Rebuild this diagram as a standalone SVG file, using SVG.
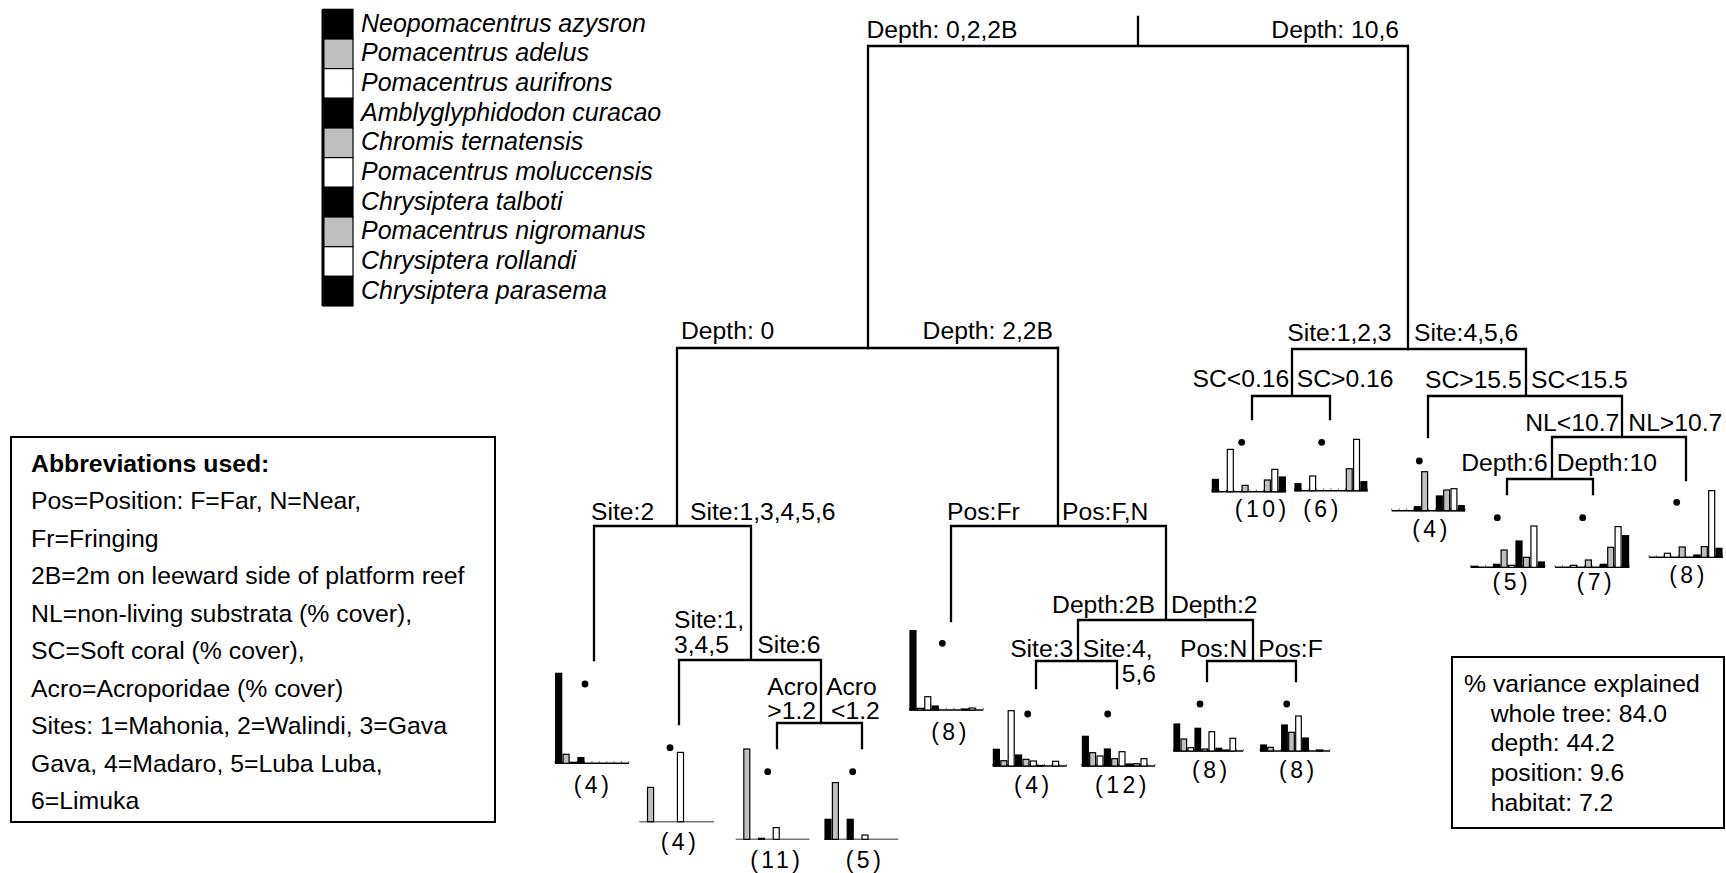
<svg xmlns="http://www.w3.org/2000/svg" width="1726" height="873" viewBox="0 0 1726 873">
<style>
text{font-family:"Liberation Sans",Arial,Helvetica,sans-serif;fill:#000}
.lg{font-size:25px;font-style:italic}
.lb{font-size:24.7px}
.ab{font-size:24.8px}
.cnt{font-size:23px;letter-spacing:3.5px;text-anchor:middle}
.e{text-anchor:end}
.ln{stroke:#000;stroke-width:2.3;fill:none;stroke-linecap:square}
.box{fill:#fff;stroke:#000;stroke-width:2}
.B{fill:#000;stroke:#000;stroke-width:1.2}
.G{fill:#bfbfbf;stroke:#000;stroke-width:1.2}
.W{fill:#fff;stroke:#000;stroke-width:1.2}
.ax{stroke:#000;stroke-width:1.5}
.axg{stroke:#777;stroke-width:1.5}
.tk{stroke:#555;stroke-width:1.6}
</style>
<rect width="1726" height="873" fill="#fff"/>

<g id="legend">
<rect class="B" x="323" y="9.3" width="30" height="29.67"/>
<rect class="G" x="323" y="39" width="30" height="29.67"/>
<rect class="W" x="323" y="68.6" width="30" height="29.67"/>
<rect class="B" x="323" y="98.3" width="30" height="29.67"/>
<rect class="G" x="323" y="128" width="30" height="29.67"/>
<rect class="W" x="323" y="157.6" width="30" height="29.67"/>
<rect class="B" x="323" y="187.3" width="30" height="29.67"/>
<rect class="G" x="323" y="217" width="30" height="29.67"/>
<rect class="W" x="323" y="246.7" width="30" height="29.67"/>
<rect class="B" x="323" y="276.3" width="30" height="29.67"/>
<line x1="323" y1="9.3" x2="323" y2="306" stroke="#000" stroke-width="3"/>
<text class="lg" x="361" y="31.7">Neopomacentrus azysron</text>
<text class="lg" x="361" y="61.4">Pomacentrus adelus</text>
<text class="lg" x="361" y="91">Pomacentrus aurifrons</text>
<text class="lg" x="361" y="120.7">Amblyglyphidodon curacao</text>
<text class="lg" x="361" y="150.4">Chromis ternatensis</text>
<text class="lg" x="361" y="180">Pomacentrus moluccensis</text>
<text class="lg" x="361" y="209.7">Chrysiptera talboti</text>
<text class="lg" x="361" y="239.4">Pomacentrus nigromanus</text>
<text class="lg" x="361" y="269.1">Chrysiptera rollandi</text>
<text class="lg" x="361" y="298.7">Chrysiptera parasema</text>
</g>

<g id="abbreviations">
<rect class="box" x="11" y="437" width="484" height="385"/>
<text class="ab" x="31" y="471.7" font-weight="bold">Abbreviations used:</text>
<text class="ab" x="31" y="509.3">Pos=Position: F=Far, N=Near,</text>
<text class="ab" x="31" y="546.8">Fr=Fringing</text>
<text class="ab" x="31" y="584.3">2B=2m on leeward side of platform reef</text>
<text class="ab" x="31" y="621.8">NL=non-living substrata (% cover),</text>
<text class="ab" x="31" y="659.3">SC=Soft coral (% cover),</text>
<text class="ab" x="31" y="696.8">Acro=Acroporidae (% cover)</text>
<text class="ab" x="31" y="734.3">Sites: 1=Mahonia, 2=Walindi, 3=Gava</text>
<text class="ab" x="31" y="771.8">Gava, 4=Madaro, 5=Luba Luba,</text>
<text class="ab" x="31" y="809.3">6=Limuka</text>
</g>

<g id="variance">
<rect class="box" x="1452" y="657" width="272" height="171"/>
<text class="ab" x="1464" y="691.7">% variance explained</text>
<text class="ab" x="1490.7" y="721.5">whole tree: 84.0</text>
<text class="ab" x="1490.7" y="751.3">depth: 44.2</text>
<text class="ab" x="1490.7" y="781.1">position: 9.6</text>
<text class="ab" x="1490.7" y="810.9">habitat: 7.2</text>
</g>

<g id="connectors">
<path class="ln" d="M1138 17V46M868 46H1408M868 46V348M1408 46V349"/>
<path class="ln" d="M677 348H1058M677 348V526M594 526H751M594 526V660M751 526V660M679 660H821M679 660V724M821 660V723M777 723H862M777 723V748M862 723V748"/>
<path class="ln" d="M1058 348V526M951 526H1166M951 526V621M1166 526V620M1078 620H1253M1078 620V661M1036 661H1117M1036 661V688M1117 661V688M1253 620V661M1207 661H1296M1207 661V681M1296 661V681"/>
<path class="ln" d="M1292 349H1526M1292 349V396M1252 396H1330M1252 396V419M1330 396V419M1526 349V396M1428 396H1622M1428 396V437M1622 396V437M1552 437H1686M1552 437V479M1507 479H1593M1507 479V494M1593 479V494M1686 437V480"/>
</g>

<g id="split-root">
<text class="lb" x="866.5" y="38">Depth: 0,2,2B</text>
<text class="lb e" x="1399" y="38">Depth: 10,6</text>
</g>
<g id="split-depth0">
<text class="lb" x="681" y="339">Depth: 0</text>
<text class="lb e" x="1053" y="339">Depth: 2,2B</text>
</g>
<g id="split-site123">
<text class="lb" x="1287.3" y="340.5">Site:1,2,3</text>
<text class="lb" x="1414" y="340.5">Site:4,5,6</text>
</g>
<g id="split-sc016">
<text class="lb e" x="1289.3" y="387.3">SC&lt;0.16</text>
<text class="lb" x="1296.7" y="387.3">SC&gt;0.16</text>
</g>
<g id="split-sc155">
<text class="lb e" x="1521.7" y="388">SC&gt;15.5</text>
<text class="lb" x="1531" y="388">SC&lt;15.5</text>
</g>
<g id="split-nl">
<text class="lb e" x="1619.3" y="431">NL&lt;10.7</text>
<text class="lb" x="1628.3" y="431">NL&gt;10.7</text>
</g>
<g id="split-depth610">
<text class="lb e" x="1547.7" y="470.7">Depth:6</text>
<text class="lb" x="1556.7" y="470.7">Depth:10</text>
</g>
<g id="split-site2">
<text class="lb" x="591" y="520">Site:2</text>
<text class="lb" x="690" y="520">Site:1,3,4,5,6</text>
</g>
<g id="split-site6">
<text class="lb" x="674" y="628.3">Site:1,</text>
<text class="lb" x="674" y="652.7">3,4,5</text>
<text class="lb" x="757.3" y="652.7">Site:6</text>
</g>
<g id="split-acro">
<text class="lb" x="767.3" y="695">Acro</text>
<text class="lb e" x="816" y="719.3">&gt;1.2</text>
<text class="lb" x="826" y="695">Acro</text>
<text class="lb" x="831" y="719.3">&lt;1.2</text>
</g>
<g id="split-pos">
<text class="lb" x="947" y="520">Pos:Fr</text>
<text class="lb" x="1062" y="520">Pos:F,N</text>
</g>
<g id="split-depth2b">
<text class="lb e" x="1155" y="612.7">Depth:2B</text>
<text class="lb" x="1171" y="612.7">Depth:2</text>
</g>
<g id="split-site3">
<text class="lb e" x="1073.3" y="656.7">Site:3</text>
<text class="lb" x="1082.7" y="656.7">Site:4,</text>
<text class="lb" x="1121.7" y="681.7">5,6</text>
</g>
<g id="split-posn">
<text class="lb e" x="1247.3" y="656.7">Pos:N</text>
<text class="lb" x="1258.3" y="656.7">Pos:F</text>
</g>

<g id="leaf-site2">
<line class="ax" x1="555" y1="763.3" x2="629" y2="763.3"/>
<line class="tk" x1="554.4" y1="762" x2="630" y2="762" stroke-dasharray="1 6.4"/>
<rect class="B" x="555.7" y="673.3" width="6" height="90"/>
<rect class="G" x="563.1" y="754.3" width="6" height="9"/>
<rect class="W" x="570.5" y="762.3" width="6" height="1"/>
<rect class="B" x="577.9" y="757.6" width="6" height="5.7"/>
<circle cx="585" cy="684" r="3.4"/>
<text class="cnt" x="593" y="792.7">(4)</text>
</g>

<g id="leaf-site1345">
<line class="axg" x1="639.3" y1="821.7" x2="714" y2="821.7"/>
<rect class="G" x="647.5" y="787.4" width="6.1" height="34.3"/>
<rect class="W" x="677.4" y="752.4" width="6.1" height="69.3"/>
<circle cx="670" cy="747.7" r="3.4"/>
<text class="cnt" x="680" y="850">(4)</text>
</g>

<g id="leaf-acro-gt">
<line class="axg" x1="735.7" y1="839.3" x2="809.3" y2="839.3"/>
<rect class="G" x="743.8" y="749" width="6" height="90.3"/>
<rect class="B" x="758.5" y="838.3" width="6" height="1"/>
<rect class="W" x="773.2" y="827.6" width="6" height="11.7"/>
<circle cx="767.7" cy="771.7" r="3.4"/>
<text class="cnt" x="776.8" y="868.3">(11)</text>
</g>

<g id="leaf-acro-lt">
<line class="axg" x1="824.3" y1="839.3" x2="898.3" y2="839.3"/>
<rect class="B" x="825" y="819.3" width="6" height="20"/>
<rect class="G" x="832.4" y="782.6" width="6" height="56.7"/>
<rect class="B" x="847.2" y="819.3" width="6" height="20"/>
<rect class="W" x="862" y="835" width="6" height="4.3"/>
<circle cx="852.7" cy="771.7" r="3.4"/>
<text class="cnt" x="865" y="868.3">(5)</text>
</g>

<g id="leaf-posfr">
<line class="ax" x1="909.3" y1="710" x2="983.3" y2="710"/>
<line class="tk" x1="908.8" y1="708.7" x2="984" y2="708.7" stroke-dasharray="1 6.4"/>
<rect class="B" x="910" y="630.7" width="6" height="79.3"/>
<rect class="G" x="917.4" y="708.3" width="6" height="1.7"/>
<rect class="W" x="924.8" y="696.7" width="6" height="13.3"/>
<rect class="B" x="932.2" y="706" width="6" height="4"/>
<rect class="G" x="961.8" y="709" width="6" height="1"/>
<rect class="W" x="969.2" y="708" width="6" height="2"/>
<circle cx="942.3" cy="643.3" r="3.4"/>
<text class="cnt" x="950.5" y="740">(8)</text>
</g>

<g id="leaf-site3">
<line class="ax" x1="992.7" y1="766" x2="1066.7" y2="766"/>
<line class="tk" x1="992.2" y1="764.7" x2="1067.4" y2="764.7" stroke-dasharray="1 6.4"/>
<rect class="B" x="993.4" y="749.3" width="6" height="16.7"/>
<rect class="G" x="1000.8" y="760.7" width="6" height="5.3"/>
<rect class="W" x="1008.2" y="710.7" width="6" height="55.3"/>
<rect class="B" x="1015.6" y="755" width="6" height="11"/>
<rect class="G" x="1023" y="759.3" width="6" height="6.7"/>
<rect class="W" x="1030.4" y="761" width="6" height="5"/>
<rect class="B" x="1037.8" y="765.4" width="6" height="0.6"/>
<rect class="W" x="1052.6" y="761.3" width="6" height="4.7"/>
<circle cx="1027.7" cy="714" r="3.4"/>
<text class="cnt" x="1033.3" y="793.3">(4)</text>
</g>

<g id="leaf-site456">
<line class="ax" x1="1081.7" y1="766" x2="1155" y2="766"/>
<line class="tk" x1="1081.2" y1="764.7" x2="1155.7" y2="764.7" stroke-dasharray="1 6.33"/>
<rect class="B" x="1082.4" y="736.3" width="5.9" height="29.7"/>
<rect class="G" x="1089.7" y="752.7" width="5.9" height="13.3"/>
<rect class="W" x="1097.1" y="756" width="5.9" height="10"/>
<rect class="B" x="1104.4" y="749" width="5.9" height="17"/>
<rect class="G" x="1111.7" y="758.7" width="5.9" height="7.3"/>
<rect class="W" x="1119.1" y="751.7" width="5.9" height="14.3"/>
<rect class="B" x="1126.4" y="764" width="5.9" height="2"/>
<rect class="G" x="1133.7" y="763.7" width="5.9" height="2.3"/>
<rect class="W" x="1141" y="758.7" width="5.9" height="7.3"/>
<circle cx="1107.7" cy="714" r="3.4"/>
<text class="cnt" x="1122.5" y="793.3">(12)</text>
</g>

<g id="leaf-posn">
<line class="ax" x1="1173.3" y1="751" x2="1243.3" y2="751"/>
<line class="tk" x1="1172.8" y1="749.7" x2="1244" y2="749.7" stroke-dasharray="1 6"/>
<rect class="B" x="1174" y="724" width="5.6" height="27"/>
<rect class="G" x="1181" y="739" width="5.6" height="12"/>
<rect class="W" x="1188" y="747.7" width="5.6" height="3.3"/>
<rect class="B" x="1195" y="728.3" width="5.6" height="22.7"/>
<rect class="G" x="1202" y="749" width="5.6" height="2"/>
<rect class="W" x="1209" y="731.7" width="5.6" height="19.3"/>
<rect class="B" x="1216" y="748.3" width="5.6" height="2.7"/>
<rect class="G" x="1223" y="750" width="5.6" height="1"/>
<rect class="W" x="1230" y="738.3" width="5.6" height="12.7"/>
<circle cx="1200" cy="704" r="3.4"/>
<text class="cnt" x="1211.3" y="778.3">(8)</text>
</g>

<g id="leaf-posf">
<line class="ax" x1="1260" y1="751" x2="1330" y2="751"/>
<line class="tk" x1="1259.5" y1="749.7" x2="1330.7" y2="749.7" stroke-dasharray="1 6"/>
<rect class="B" x="1260.7" y="745" width="5.6" height="6"/>
<rect class="G" x="1267.7" y="747.3" width="5.6" height="3.7"/>
<rect class="B" x="1281.7" y="725" width="5.6" height="26"/>
<rect class="G" x="1288.7" y="732.3" width="5.6" height="18.7"/>
<rect class="W" x="1295.7" y="716" width="5.6" height="35"/>
<rect class="B" x="1302.7" y="738" width="5.6" height="13"/>
<rect class="W" x="1316.7" y="750" width="5.6" height="1"/>
<circle cx="1286.7" cy="704" r="3.4"/>
<text class="cnt" x="1298.3" y="778.3">(8)</text>
</g>

<g id="leaf-sclt016">
<line class="ax" x1="1211.7" y1="491.7" x2="1286" y2="491.7"/>
<line class="tk" x1="1211.2" y1="490.4" x2="1286.7" y2="490.4" stroke-dasharray="1 6.43"/>
<rect class="B" x="1212.4" y="479.4" width="6" height="12.3"/>
<rect class="W" x="1227.3" y="449.4" width="6" height="42.3"/>
<rect class="G" x="1242.1" y="485.4" width="6" height="6.3"/>
<rect class="G" x="1264.4" y="480" width="6" height="11.7"/>
<rect class="W" x="1271.8" y="469.4" width="6" height="22.3"/>
<rect class="B" x="1279.3" y="477" width="6" height="14.7"/>
<circle cx="1241.7" cy="442.3" r="3.4"/>
<text class="cnt" x="1262.3" y="516.7">(10)</text>
</g>

<g id="leaf-scgt016">
<line class="ax" x1="1294.3" y1="490.7" x2="1367.7" y2="490.7"/>
<line class="tk" x1="1293.8" y1="489.4" x2="1368.4" y2="489.4" stroke-dasharray="1 6.33"/>
<rect class="B" x="1295" y="483.7" width="5.9" height="7"/>
<rect class="W" x="1309.7" y="476" width="5.9" height="14.7"/>
<rect class="G" x="1346.3" y="468.7" width="5.9" height="22"/>
<rect class="W" x="1353.6" y="439.4" width="5.9" height="51.3"/>
<rect class="B" x="1360.9" y="481.7" width="5.9" height="9"/>
<circle cx="1321.7" cy="442.3" r="3.4"/>
<text class="cnt" x="1322.5" y="516.7">(6)</text>
</g>

<g id="leaf-scgt155">
<line class="ax" x1="1391.7" y1="510.7" x2="1465" y2="510.7"/>
<line class="tk" x1="1391.2" y1="509.4" x2="1465.7" y2="509.4" stroke-dasharray="1 6.33"/>
<rect class="B" x="1414.4" y="506.7" width="5.9" height="4"/>
<rect class="G" x="1421.7" y="471.7" width="5.9" height="39"/>
<rect class="B" x="1436.4" y="496" width="5.9" height="14.7"/>
<rect class="G" x="1443.7" y="490" width="5.9" height="20.7"/>
<rect class="W" x="1451" y="488.7" width="5.9" height="22"/>
<rect class="B" x="1458.4" y="505.7" width="5.9" height="5"/>
<circle cx="1419.3" cy="461" r="3.4"/>
<text class="cnt" x="1431.5" y="537.3">(4)</text>
</g>

<g id="leaf-depth6">
<line class="ax" x1="1470.7" y1="567.3" x2="1545" y2="567.3"/>
<line class="tk" x1="1470.2" y1="566" x2="1545.7" y2="566" stroke-dasharray="1 6.43"/>
<rect class="B" x="1471.4" y="566.3" width="6" height="1"/>
<rect class="B" x="1493.7" y="564.3" width="6" height="3"/>
<rect class="G" x="1501.1" y="550" width="6" height="17.3"/>
<rect class="W" x="1508.6" y="565.3" width="6" height="2"/>
<rect class="B" x="1516" y="541" width="6" height="26.3"/>
<rect class="G" x="1523.4" y="557.3" width="6" height="10"/>
<rect class="W" x="1530.9" y="526" width="6" height="41.3"/>
<rect class="B" x="1538.3" y="562" width="6" height="5.3"/>
<circle cx="1497.3" cy="517.7" r="3.4"/>
<text class="cnt" x="1511.8" y="590">(5)</text>
</g>

<g id="leaf-depth10">
<line class="ax" x1="1555" y1="567.3" x2="1629.3" y2="567.3"/>
<line class="tk" x1="1554.5" y1="566" x2="1630" y2="566" stroke-dasharray="1 6.43"/>
<rect class="W" x="1570.6" y="565.3" width="6" height="2"/>
<rect class="G" x="1585.4" y="560" width="6" height="7.3"/>
<rect class="B" x="1600.3" y="564.3" width="6" height="3"/>
<rect class="G" x="1607.7" y="547.3" width="6" height="20"/>
<rect class="W" x="1615.1" y="526.6" width="6" height="40.7"/>
<rect class="B" x="1622.6" y="535.6" width="6" height="31.7"/>
<circle cx="1582.7" cy="517.7" r="3.4"/>
<text class="cnt" x="1595.8" y="590">(7)</text>
</g>

<g id="leaf-nlgt107">
<line class="ax" x1="1649" y1="557.3" x2="1722.7" y2="557.3"/>
<line class="tk" x1="1648.5" y1="556" x2="1723.4" y2="556" stroke-dasharray="1 6.37"/>
<rect class="W" x="1664.4" y="553.3" width="6" height="4"/>
<rect class="G" x="1679.2" y="547" width="6" height="10.3"/>
<rect class="B" x="1693.9" y="555" width="6" height="2.3"/>
<rect class="G" x="1701.3" y="546.6" width="6" height="10.7"/>
<rect class="W" x="1708.7" y="490.6" width="6" height="66.7"/>
<rect class="B" x="1716" y="548.3" width="6" height="9"/>
<circle cx="1676.7" cy="502.3" r="3.4"/>
<text class="cnt" x="1688.5" y="583.3">(8)</text>
</g>
</svg>
